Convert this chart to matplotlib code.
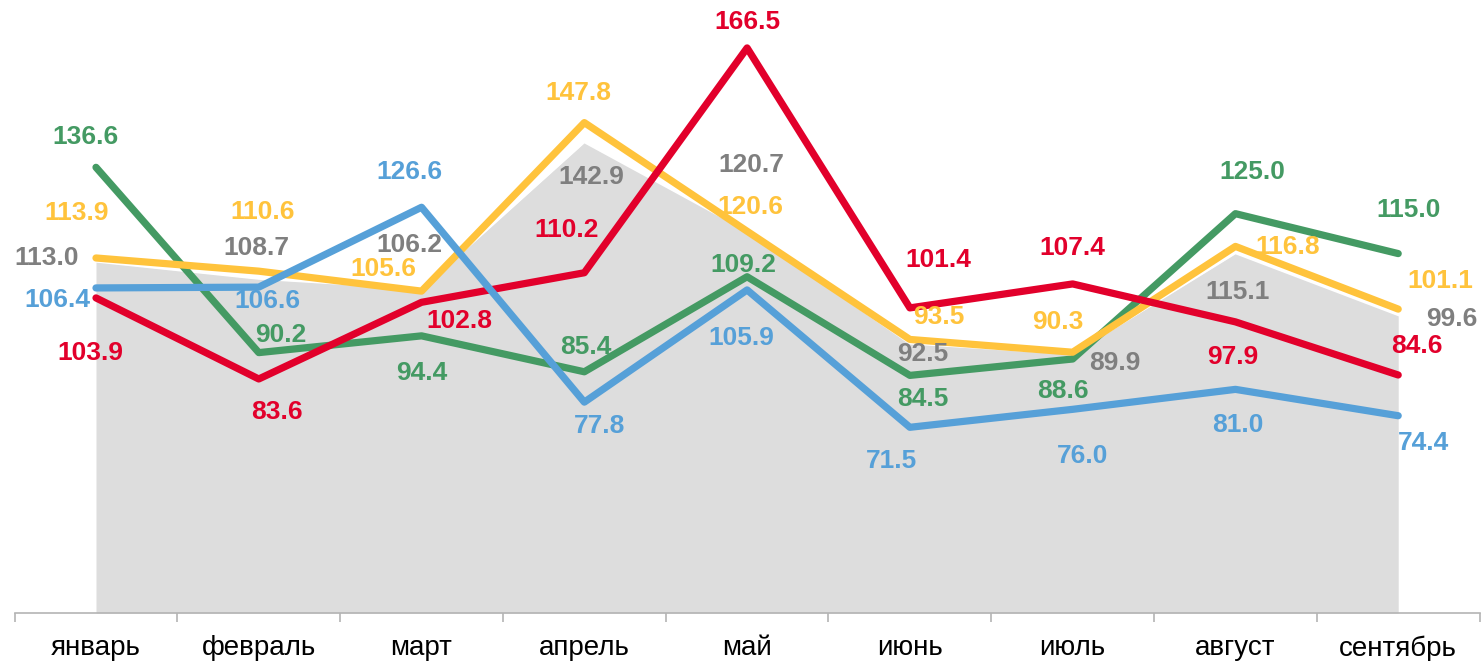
import matplotlib.pyplot as plt
import numpy as np

plt.rcParams['font.family'] = ['Liberation Sans', 'DejaVu Sans']

months = ['январь', 'февраль', 'март', 'апрель', 'май', 'июнь', 'июль', 'август', 'сентябрь']

gray_area = [113.0, 108.7, 106.2, 142.9, 120.7, 92.5, 89.9, 115.1, 99.6]
green = [136.6, 90.2, 94.4, 85.4, 109.2, 84.5, 88.6, 125.0, 115.0]
yellow = [113.9, 110.6, 105.6, 147.8, 120.6, 93.5, 90.3, 116.8, 101.1]
blue = [106.4, 106.6, 126.6, 77.8, 105.9, 71.5, 76.0, 81.0, 74.4]
red = [103.9, 83.6, 102.8, 110.2, 166.5, 101.4, 107.4, 97.9, 84.6]

# label offsets in pixels (dx, dy), dy positive = up
gray_off = [(-49, 4), (-2, 31), (-12, 44), (7, -35), (4, 66), (13, -11), (42, -9), (2, -39), (54, -4)]
green_off = [(-10, 30), (22, 18), (0, -37), (1, 25), (-4, 12), (13, -24), (-10, -32), (17, 42), (10, 44)]
yellow_off = [(-19, 45), (4, 59), (-38, 22), (-6, 30), (3, 24), (29, 22), (-15, 30), (52, -1), (42, 28)]
blue_off = [(-39, -12), (9, -14), (-12, 35), (15, -24), (-6, -48), (-18, -34), (10, -47), (2, -36), (25, -27)]
red_off = [(-6, -55), (18, -33), (38, -19), (-18, 43), (0, 26), (28, 48), (0, 36), (-3, -35), (19, 29)]

c_gray_fill = '#dddddd'
c_gray_text = '#7f7f7f'
c_green = '#449a63'
c_yellow = '#ffc33c'
c_blue = '#56a0d8'
c_red = '#e2002b'

fig = plt.figure(figsize=(14.81, 6.61), dpi=100)
ax = fig.add_axes([14.6 / 1481, 1 - 613 / 661, 1465 / 1481, 613 / 661])
x = np.arange(len(months))

# grey area with thin white rim
ax.fill_between(x, 25, gray_area, color=c_gray_fill, lw=0, zorder=1)
ax.plot(x, gray_area, color='white', lw=1.5, zorder=1.5)

series = [(green, c_green, green_off), (yellow, c_yellow, yellow_off),
          (red, c_red, red_off), (blue, c_blue, blue_off)]
for vals, col, off in series:
    ax.plot(x, vals, color=col, lw=5.2, solid_capstyle='round', solid_joinstyle='round', zorder=2)

for vals, col, off in [(gray_area, c_gray_text, gray_off)] + series:
    for xi, v, (dx, dy) in zip(x, vals, off):
        ax.annotate(f'{v:.1f}', (xi, v), xytext=(dx, dy), textcoords='offset pixels',
                    ha='center', va='center', fontsize=19, fontweight='bold', color=col, zorder=5)

ax.set_xlim(-0.5, 8.5)
ax.set_ylim(25, 178.5)
ax.set_yticks([])
for s in ['left', 'right', 'top']:
    ax.spines[s].set_visible(False)
ax.spines['bottom'].set_color('#b4b4b4')
ax.spines['bottom'].set_linewidth(1.2)
ax.set_xticks(x)
ax.set_xticklabels(months, fontsize=20)
ax.tick_params(axis='x', which='major', length=0, pad=16)
ax.set_xticks(np.arange(-0.5, 9, 1), minor=True)
ax.tick_params(axis='x', which='minor', length=6.5, color='#b4b4b4', width=1.2)

fig.savefig('out.png', dpi=100)
